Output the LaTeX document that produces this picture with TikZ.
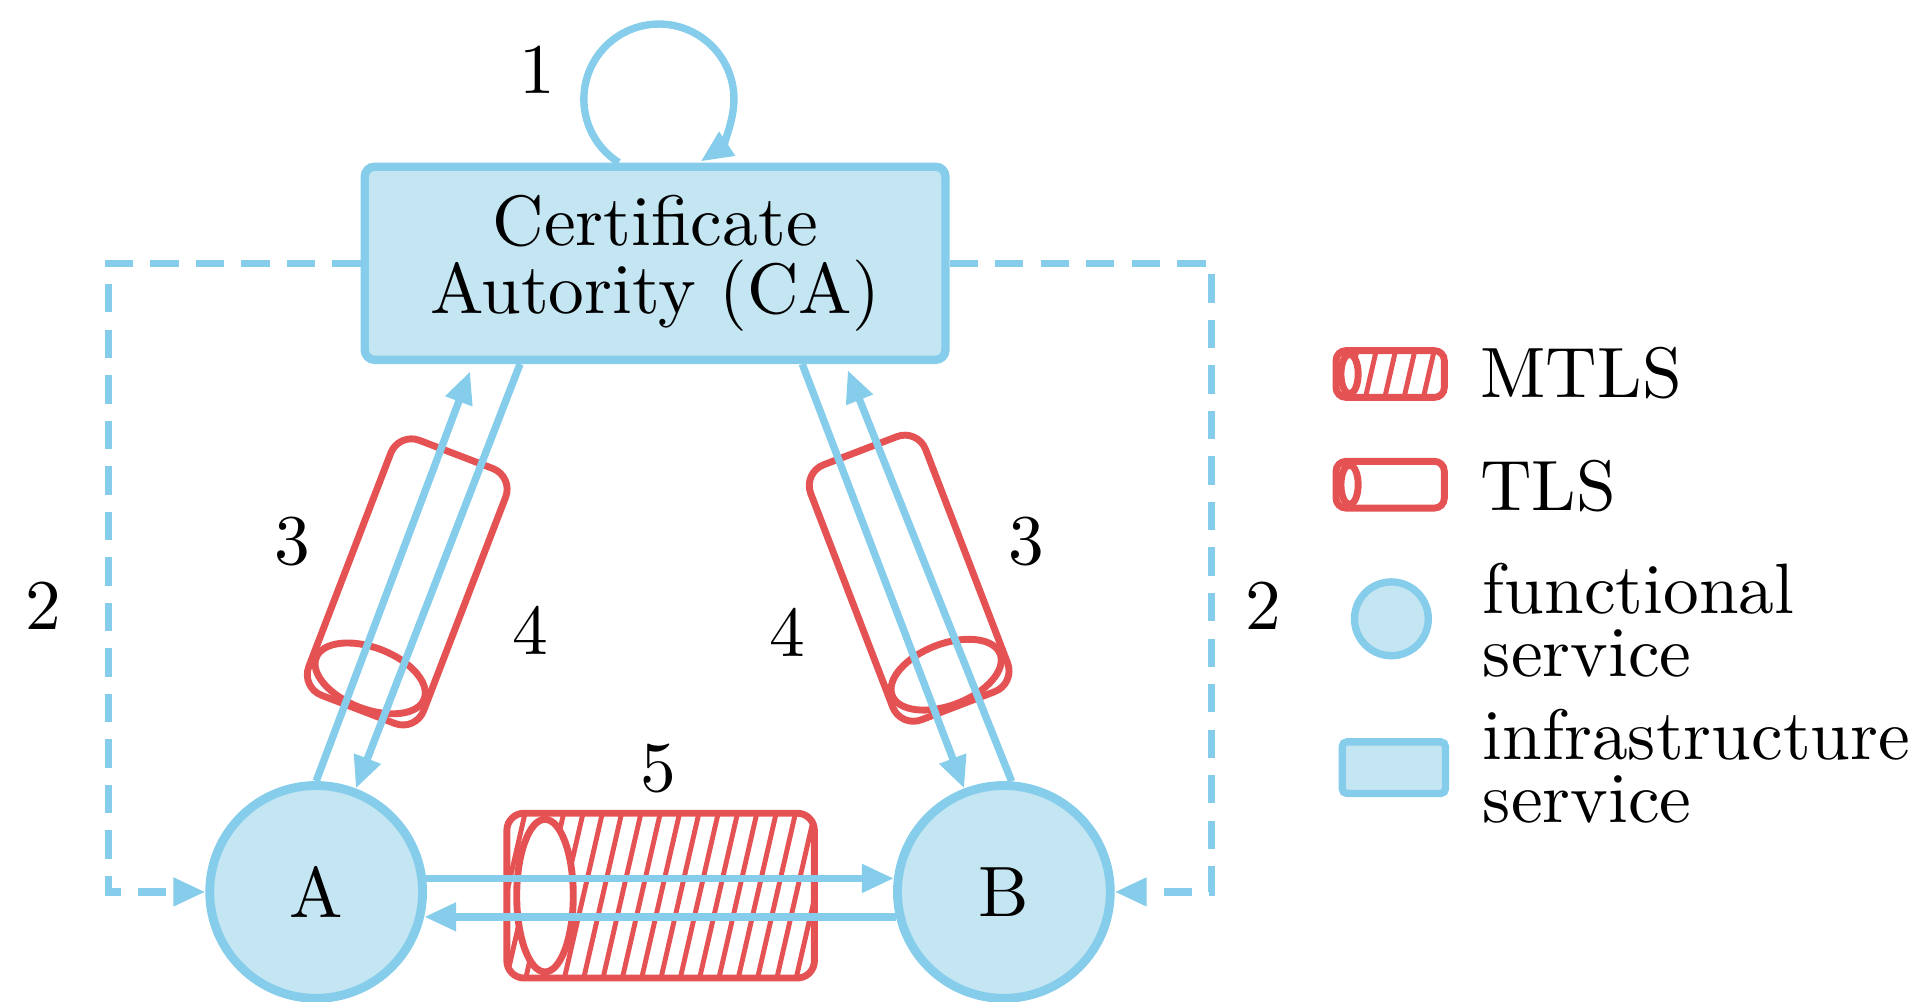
\documentclass[tikz,border=0pt]{standalone}
\usepackage{fontspec}
\setmainfont{lmroman10-regular.otf}
\usetikzlibrary{arrows.meta,calc}
\definecolor{svcline}{RGB}{133,205,234}
\definecolor{svcfill}{RGB}{196,229,242}
\definecolor{tunnel}{RGB}{228,82,84}

% A tunnel drawn as a cylinder lying along the local x axis (front end at negative x).
% #1 half length, #2 radius, #3 corner radius, #4 front ellipse centre,
% #5/#6 ellipse radii, #7 = 1 for a hatched (mutual) tunnel
\newcommand{\tunnelpipe}[7]{%
  \begin{scope}
    \clip[rounded corners=#3] (-#1,-#2) rectangle (#1,#2);
    \ifnum#7=1
      \foreach \k in {-10,...,10}
        \draw[hatchline] ({\k*15.7-0.23*#2},-#2) -- ({\k*15.7+0.23*#2},#2);
    \fi
  \end{scope}
  \fill[white] (#4,0) ellipse[x radius=#5, y radius=#6];
  \draw[tube, rounded corners=#3] (-#1,-#2) rectangle (#1,#2);
  \draw[tube] (#4,0) ellipse[x radius=#5, y radius=#6];
}

\tikzset{
  every node/.style={font=\fontsize{29}{29}\selectfont},
  flow/.style={draw=svcline, line width=3pt},
  arr/.style={flow, -{Triangle[length=13pt,width=11pt]}},
  dasharr/.style={arr, dash pattern=on 11.5pt off 7pt},
  infra/.style={draw=svcline, fill=svcfill, line width=3.4pt, rounded corners=4pt},
  func/.style={circle, draw=svcline, fill=svcfill, line width=3.6pt},
  tube/.style={draw=tunnel, line width=2.8pt},
  hatchline/.style={draw=tunnel, line width=2pt},
  lbl/.style={inner sep=0pt},
}

\begin{document}
\begin{tikzpicture}[x=0.5pt,y=0.5pt]
\useasboundingbox (0,0) rectangle (1568,-814);

% tunnels
\begin{scope}[shift={(537,-728)}]
  \tunnelpipe{125}{67}{7pt}{-94}{23}{62}{1}
\end{scope}
\begin{scope}[shift={(331,-473)}, rotate=69]
  \tunnelpipe{111}{50}{9pt}{-84}{25}{47}{0}
\end{scope}
\begin{scope}[shift={(739,-470)}, rotate=111]
  \tunnelpipe{111}{50}{9pt}{-84}{25}{47}{0}
\end{scope}

% services
\node[infra, minimum width=236pt, minimum height=78.5pt, align=center,
      font=\fontsize{29}{27.5}\selectfont] (ca) at (532.5,-214) {Certificate\\Autority (CA)};
\node[func, minimum size=86.5pt] (a) at (257,-725) {A};
\node[func, minimum size=86.5pt] (b) at (816,-725) {B};

% 1: self-signed certificate
\draw[arr] ($(ca.north)+(-29.5,0)$) arc[start angle=237.7, end angle=-56.2, radius=61];

% 2: trust distribution
\draw[dasharr] (ca.west) -- ++(-205,0) |- (a.west);
\draw[dasharr] (ca.east) -- ++(213,0) |- (b.east);

% 3 and 4: certificate requests and replies
\draw[arr] (a.90) -- ($(ca.south west)+(89,-6)$);
\draw[arr] ($(ca.south west)+(129.6,0)$) -- (a.69);
\draw[arr] ($(ca.south west)+(359,0)$) -- (b.111);
\draw[arr] (b.86) -- ($(ca.south west)+(396,-5)$);

% 5: service traffic
\draw[arr] (a.7) -- (b.173);
\draw[arr] (b.193) -- (a.347);

% step numbers
\node[lbl] (s1) at (437,-57) {1};
\node[lbl] (s2l) at (35,-492) {2};
\node[lbl] (s2r) at (1027,-492) {2};
\node[lbl] (s3l) at (238,-440) {3};
\node[lbl] (s3r) at (834,-440) {3};
\node[lbl] (s4l) at (431,-512) {4};
\node[lbl] (s4r) at (640,-514) {4};
\node[lbl] (s5) at (535,-625) {5};

% legend
\begin{scope}[shift={(1130,-304)}]
  \tunnelpipe{44}{19}{4pt}{-33}{7}{16}{1}
\end{scope}
\begin{scope}[shift={(1130,-394)}]
  \tunnelpipe{44}{19}{4pt}{-33}{7}{16}{0}
\end{scope}
\node[func, minimum size=30pt, line width=3pt] (lf) at (1131,-503) {};
\node[infra, minimum width=42pt, minimum height=21pt, line width=3pt, rounded corners=2pt] (li) at (1133,-624) {};

\node[lbl, anchor=west] (tm) at (1203,-303) {MTLS};
\node[lbl, anchor=west] (tt) at (1203,-395) {TLS};
\node[lbl, anchor=west, align=left, font=\fontsize{29}{25.5}\selectfont] (tf) at (1205,-504) {functional\\service};
\node[lbl, anchor=west, align=left, font=\fontsize{29}{25.5}\selectfont] (ti) at (1205,-623) {infrastructure\\service};
\end{tikzpicture}
\end{document}
